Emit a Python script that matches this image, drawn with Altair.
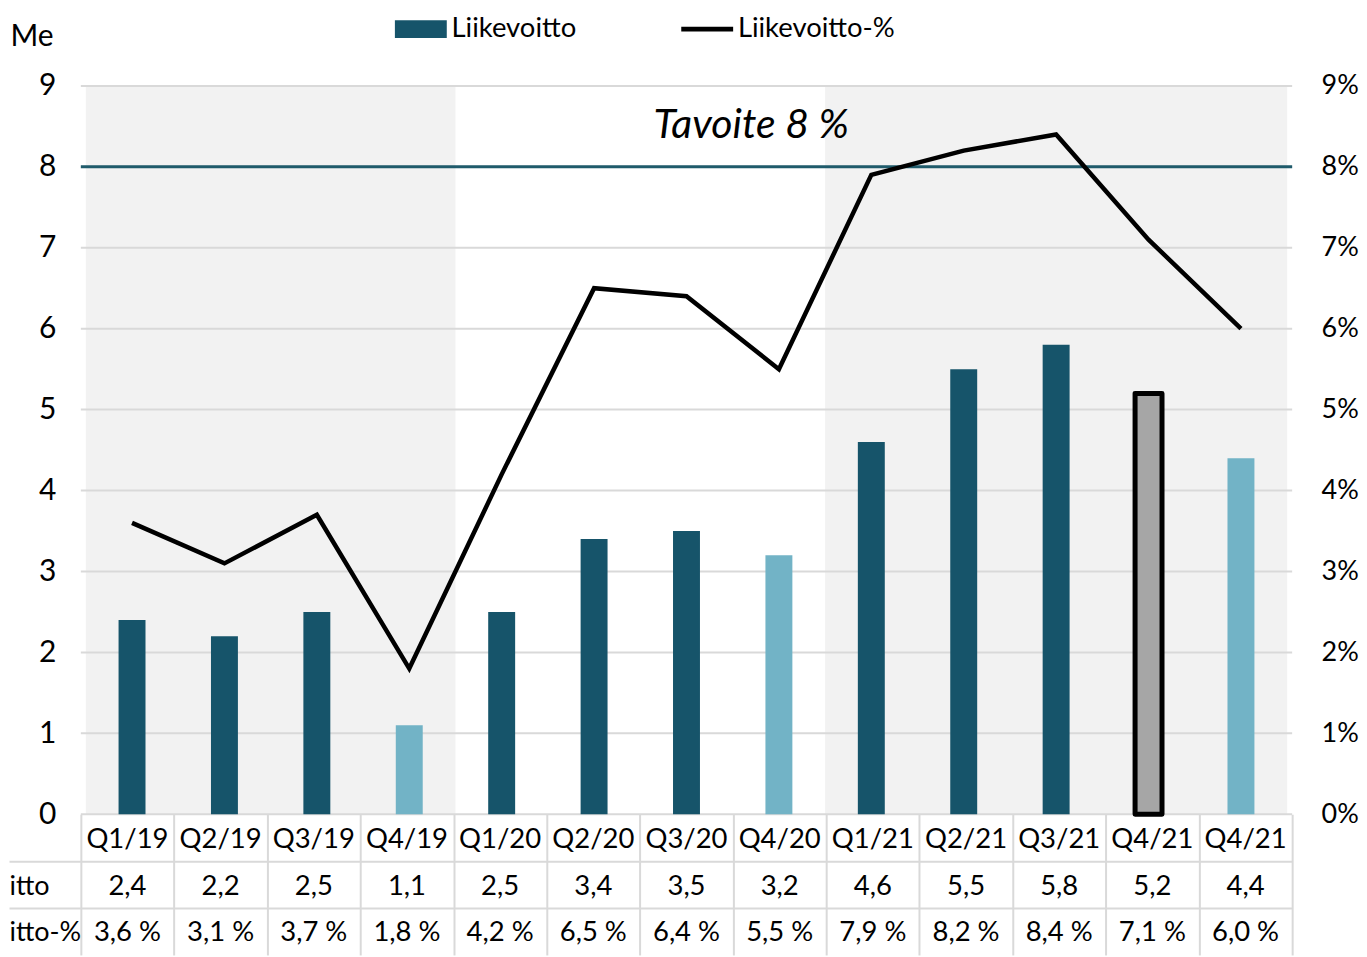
import altair as alt
import pandas as pd

FONT = "Lato"

quarters = ["Q1/19", "Q2/19", "Q3/19", "Q4/19", "Q1/20", "Q2/20", "Q3/20",
            "Q4/20", "Q1/21", "Q2/21", "Q3/21", "Q4/21", "Q4/21"]
liikevoitto = [2.4, 2.2, 2.5, 1.1, 2.5, 3.4, 3.5, 3.2, 4.6, 5.5, 5.8, 5.2, 4.4]
liikevoitto_pct = [3.6, 3.1, 3.7, 1.8, 4.2, 6.5, 6.4, 5.5, 7.9, 8.2, 8.4, 7.1, 6.0]
bar_kind = ["d", "d", "d", "l", "d", "d", "d", "l", "d", "d", "d", "g", "l"]
shade_start = [0, 8]
shade_end = [4, 13]
y_ticks = list(range(10))
target = 8
series = ["Liikevoitto", "Liikevoitto-%"]

N = len(quarters)


def fi(v):
    return f"{v:.1f}".replace(".", ",")


df = pd.DataFrame({"i": list(range(N)), "q": quarters, "lv": liikevoitto,
                   "pct": liikevoitto_pct, "kind": bar_kind})
shade = pd.DataFrame({"start": shade_start, "end": shade_end})
grid = pd.DataFrame({"t": y_ticks})
leg = pd.DataFrame({"s": series})

rows = []
for i in range(N):
    rows.append({"i": i, "row": "q", "txt": quarters[i]})
    rows.append({"i": i, "row": "v", "txt": fi(liikevoitto[i])})
    rows.append({"i": i, "row": "p", "txt": fi(liikevoitto_pct[i]) + " %"})
tab = pd.DataFrame(rows)

W = 1214
H = 730

xscale = alt.Scale(domain=[0, N], nice=False, zero=False)
yscale = alt.Scale(domain=[0, 9], nice=False, zero=True)

bg = alt.Chart(shade).mark_rect(color="#F2F2F2").encode(
    x=alt.X("start:Q", scale=xscale, axis=None),
    x2="end:Q",
    y=alt.Y(datum=0, type="quantitative", scale=yscale, axis=None),
    y2=alt.Y2(datum=9),
)

gridlines = alt.Chart(grid).mark_rule(color="#D9D9D9", strokeWidth=2).encode(
    y=alt.Y("t:Q", scale=yscale, axis=None)
)

target_line = alt.Chart(pd.DataFrame({"t": [target]})).mark_rule(
    color="#1F5B6B", strokeWidth=3
).encode(y=alt.Y("t:Q", scale=yscale, axis=None))

left_axis = alt.Axis(orient="left", values=y_ticks, grid=False, domain=False, ticks=False,
                     labelPadding=25, labelFontSize=30, labelFont=FONT,
                     labelColor="#000000",
                     title="Me", titleAngle=0, titleAlign="left",
                     titleBaseline="alphabetic", titleX=-71, titleY=-40,
                     titleFontSize=30, titleFont=FONT, titleFontWeight="normal",
                     titleColor="#000000")

bars = alt.Chart(df).transform_calculate(xc="datum.i + 0.5").mark_bar(
    size=27, strokeJoin="round"
).encode(
    x=alt.X("xc:Q", scale=xscale, axis=None),
    y=alt.Y("lv:Q", scale=yscale, axis=left_axis),
    fill=alt.Fill("kind:N", scale=alt.Scale(domain=["d", "l", "g"],
                                            range=["#16546A", "#72B3C6", "#A6A6A6"]),
                  legend=None),
    stroke=alt.condition("datum.kind == 'g'", alt.value("#000000"), alt.value("transparent")),
    strokeWidth=alt.condition("datum.kind == 'g'", alt.value(5), alt.value(0)),
)

note = alt.Chart(pd.DataFrame({"a": [1]})).mark_text(
    text="Tavoite 8 %", font=FONT, fontStyle="italic", fontSize=41,
    color="#000000", baseline="middle", align="center"
).encode(
    x=alt.X(datum=7.2, type="quantitative", scale=xscale, axis=None),
    y=alt.Y(datum=8.5, type="quantitative", scale=yscale, axis=None),
)

right_axis = alt.Axis(orient="right", values=y_ticks, labelExpr="datum.value + '%'",
                      grid=False, domain=False, ticks=False, labelPadding=29,
                      labelFontSize=27, labelFont=FONT, labelColor="#000000", title=None)

line = alt.Chart(df).transform_calculate(xc="datum.i + 0.5").mark_line(
    color="#000000", strokeWidth=4.5
).encode(
    x=alt.X("xc:Q", scale=xscale, axis=None),
    y=alt.Y("pct:Q", scale=yscale, axis=right_axis),
)

leg_def = dict(orient="none", legendX=327, legendY=-71, direction="horizontal",
               symbolSize=676, symbolStrokeWidth=0, symbolOpacity=1, labelFontSize=27.5,
               labelFont=FONT, labelColor="#000000", labelOffset=17,
               columnPadding=104, title=None, padding=0, labelLimit=400)

legend_layer = alt.Chart(leg).mark_point(filled=True, size=0, opacity=1).encode(
    color=alt.Color("s:N", scale=alt.Scale(domain=series, range=["#16546A", "#000000"]),
                    legend=alt.Legend(**leg_def)),
    shape=alt.Shape("s:N", scale=alt.Scale(domain=series,
                                           range=["M-2,-0.68H2V0.68H-2Z",
                                                  "M-2,-0.19H2V0.19H-2Z"]),
                    legend=alt.Legend(**leg_def)),
)

main = alt.layer(bg, gridlines, target_line, bars, note, line, legend_layer).resolve_axis(
    y="independent"
).properties(width=W, height=H)

table = alt.Chart(tab).transform_calculate(xc="datum.i + 0.5").mark_text(
    fontSize=27.5, font=FONT, color="#000000", baseline="middle", align="center", dy=2
).encode(
    x=alt.X("xc:Q", scale=xscale,
            axis=alt.Axis(values=list(range(N + 1)), labels=False, ticks=False,
                          domain=False, grid=True, gridColor="#D9D9D9", gridWidth=2,
                          title=None)),
    y=alt.Y("row:N", sort=["q", "v", "p"],
            scale=alt.Scale(type="band", paddingInner=0, paddingOuter=0),
            axis=alt.Axis(values=["v", "p"],
                          labelExpr="datum.value == 'v' ? 'itto' : 'itto-%'",
                          bandPosition=0, tickSize=72, tickColor="#D9D9D9", tickWidth=2,
                          grid=True, gridColor="#D9D9D9", gridWidth=2, domain=False,
                          labelAlign="left", labelPadding=0, labelFontSize=27,
                          labelOffset=2,
                          labelFont=FONT, labelColor="#000000", title=None)),
    text="txt:N",
).properties(width=W, height=141)

chart = alt.vconcat(main, table, spacing=0, bounds="flush").properties(
    padding={"top": 6, "left": 0, "right": 0, "bottom": 0}
).configure_view(stroke=None)

chart.save("out.html", embed_options={"renderer": "svg", "actions": False})
